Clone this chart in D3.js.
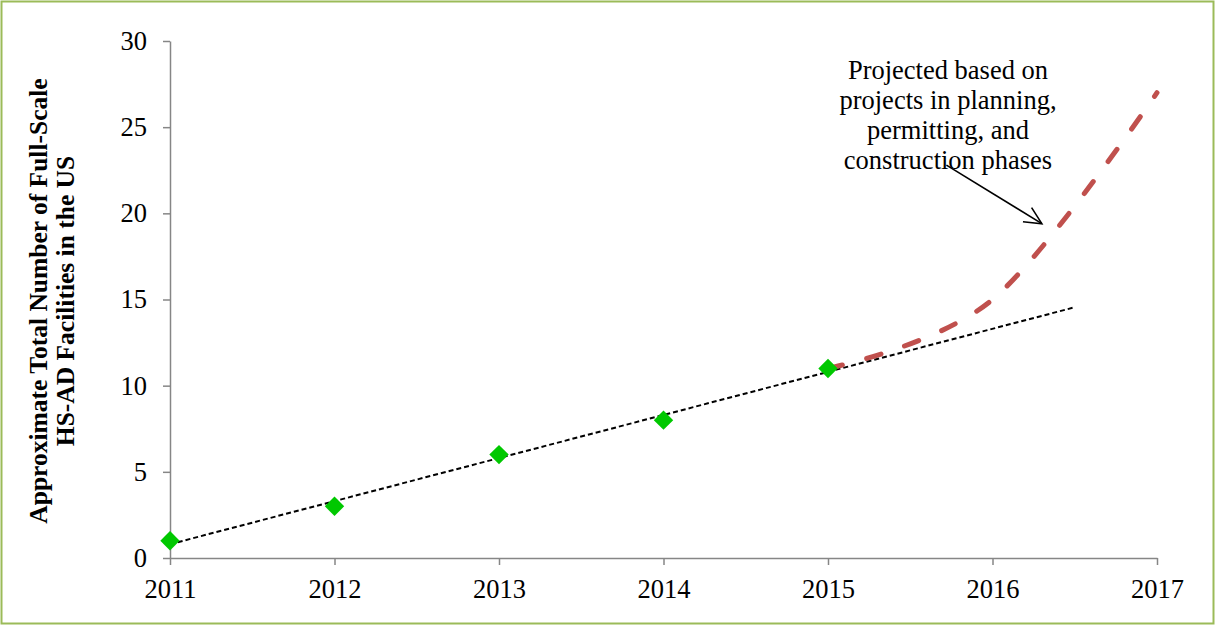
<!DOCTYPE html>
<html>
<head>
<meta charset="utf-8">
<script src="https://cdn.jsdelivr.net/npm/d3@7"></script>
<style>
  html, body { margin: 0; padding: 0; background: #fff; }
  svg { display: block; }
  text { font-family: "Liberation Serif", "Times New Roman", serif; fill: #000; }
</style>
</head>
<body>
<svg id="chart" width="1215" height="625"></svg>
<script>
// Observed facility counts by year
const years = [2011, 2012, 2013, 2014, 2015];
const facilities = [1, 3, 6, 8, 11];

// Projection from projects in the pipeline
const projYears = [2015, 2016, 2017];
const projFacilities = [11, 15, 27];

// Axis ticks
const xTicks = [2011, 2012, 2013, 2014, 2015, 2016, 2017];
const yTicks = [0, 5, 10, 15, 20, 25, 30];

// Linear trendline reaches this far past the last observation
const trendForward = 1.5;

const yTitleLines = ["Approximate Total Number of Full-Scale", "HS-AD Facilities in the US"];
const noteLines = ["Projected based on", "projects in planning,", "permitting, and", "construction phases"];

const W = 1215, H = 625;
const svg = d3.select("#chart");

// outer frame
svg.append("rect")
  .attr("x", 1.5).attr("y", 1.5)
  .attr("width", W - 3).attr("height", H - 3)
  .attr("fill", "#fff").attr("stroke", "#9BBB59").attr("stroke-width", 2);

const plot = { left: 170, right: 1157, top: 41, bottom: 558 };

const x = d3.scaleLinear().domain([2011, 2017]).range([plot.left, plot.right]);
const y = d3.scaleLinear().domain([0, 30]).range([plot.bottom, plot.top]);

const axisColor = "#868686";

// y axis
const gy = svg.append("g")
  .attr("transform", `translate(${plot.left},0)`)
  .call(d3.axisLeft(y).tickValues(yTicks).tickSize(7).tickSizeOuter(0).tickPadding(16));
// x axis
const gx = svg.append("g")
  .attr("transform", `translate(0,${plot.bottom})`)
  .call(d3.axisBottom(x).tickValues(xTicks).tickFormat(d3.format("d")).tickSize(7).tickSizeOuter(0));

[gx, gy].forEach(g => {
  g.select(".domain").attr("stroke", axisColor).attr("stroke-width", 1.5);
  g.selectAll(".tick line").attr("stroke", axisColor).attr("stroke-width", 1.5);
  g.selectAll(".tick text")
    .attr("font-family", "'Liberation Serif', 'Times New Roman', serif")
    .attr("font-size", 26.5).attr("fill", "#000");
});
gx.selectAll(".tick text").attr("y", 40).attr("dy", 0);

// y axis title (two bold lines, rotated)
const yTitle = svg.append("text")
  .attr("transform", "translate(38,301) rotate(-90)")
  .attr("text-anchor", "middle")
  .attr("font-size", 25.5).attr("font-weight", "bold");
yTitle.selectAll("tspan").data(yTitleLines).join("tspan")
  .attr("x", 0).attr("dy", (d, i) => i === 0 ? "0.35em" : "1.08em")
  .text(d => d);

// least-squares trendline through the observed points
const n = years.length;
const mx = d3.mean(years), my = d3.mean(facilities);
const slope = d3.sum(years, (v, i) => (v - mx) * (facilities[i] - my)) / d3.sum(years, v => (v - mx) ** 2);
const icpt = my - slope * mx;
const trendX = [years[0], years[n - 1] + trendForward];
svg.append("line")
  .attr("x1", x(trendX[0])).attr("y1", y(icpt + slope * trendX[0]))
  .attr("x2", x(trendX[1])).attr("y2", y(icpt + slope * trendX[1]))
  .attr("stroke", "#000").attr("stroke-width", 2)
  .attr("stroke-dasharray", "5,3");

// projected growth, smoothed dashed line
const projLine = d3.line()
  .x((d, i) => x(projYears[i]))
  .y(d => y(d))
  .curve(d3.curveCardinal.tension(0));
svg.append("path")
  .attr("d", projLine(projFacilities))
  .attr("fill", "none")
  .attr("stroke", "#C0504D").attr("stroke-width", 5)
  .attr("stroke-linecap", "round")
  .attr("stroke-dasharray", "15,25");

// observed points as diamonds
svg.append("g").selectAll("path").data(facilities).join("path")
  .attr("transform", (d, i) => `translate(${x(years[i])},${y(d)})`)
  .attr("d", d3.symbol().type(d3.symbolDiamond2).size(240))
  .attr("fill", "#00C800");

// annotation
const note = svg.append("text")
  .attr("text-anchor", "middle")
  .attr("font-size", 26.5);
note.selectAll("tspan").data(noteLines).join("tspan")
  .attr("x", 948).attr("y", (d, i) => 79 + i * 30)
  .text(d => d);

// arrow pointing at the projected line
const arrowTail = [2015.72, 22.8];
const arrowTip = [2016.3, 19.4];
const ax1 = x(arrowTail[0]), ay1 = y(arrowTail[1]);
const ax2 = x(arrowTip[0]), ay2 = y(arrowTip[1]);
const ang = Math.atan2(ay2 - ay1, ax2 - ax1);
const headLen = 19, headSpread = 0.45;
const arrow = svg.append("g").attr("stroke", "#000").attr("stroke-width", 1.6).attr("fill", "none");
arrow.append("line").attr("x1", ax1).attr("y1", ay1).attr("x2", ax2).attr("y2", ay2);
arrow.append("path").attr("d",
  `M${ax2 - headLen * Math.cos(ang - headSpread)},${ay2 - headLen * Math.sin(ang - headSpread)}` +
  `L${ax2},${ay2}` +
  `L${ax2 - headLen * Math.cos(ang + headSpread)},${ay2 - headLen * Math.sin(ang + headSpread)}`);
</script>
</body>
</html>
